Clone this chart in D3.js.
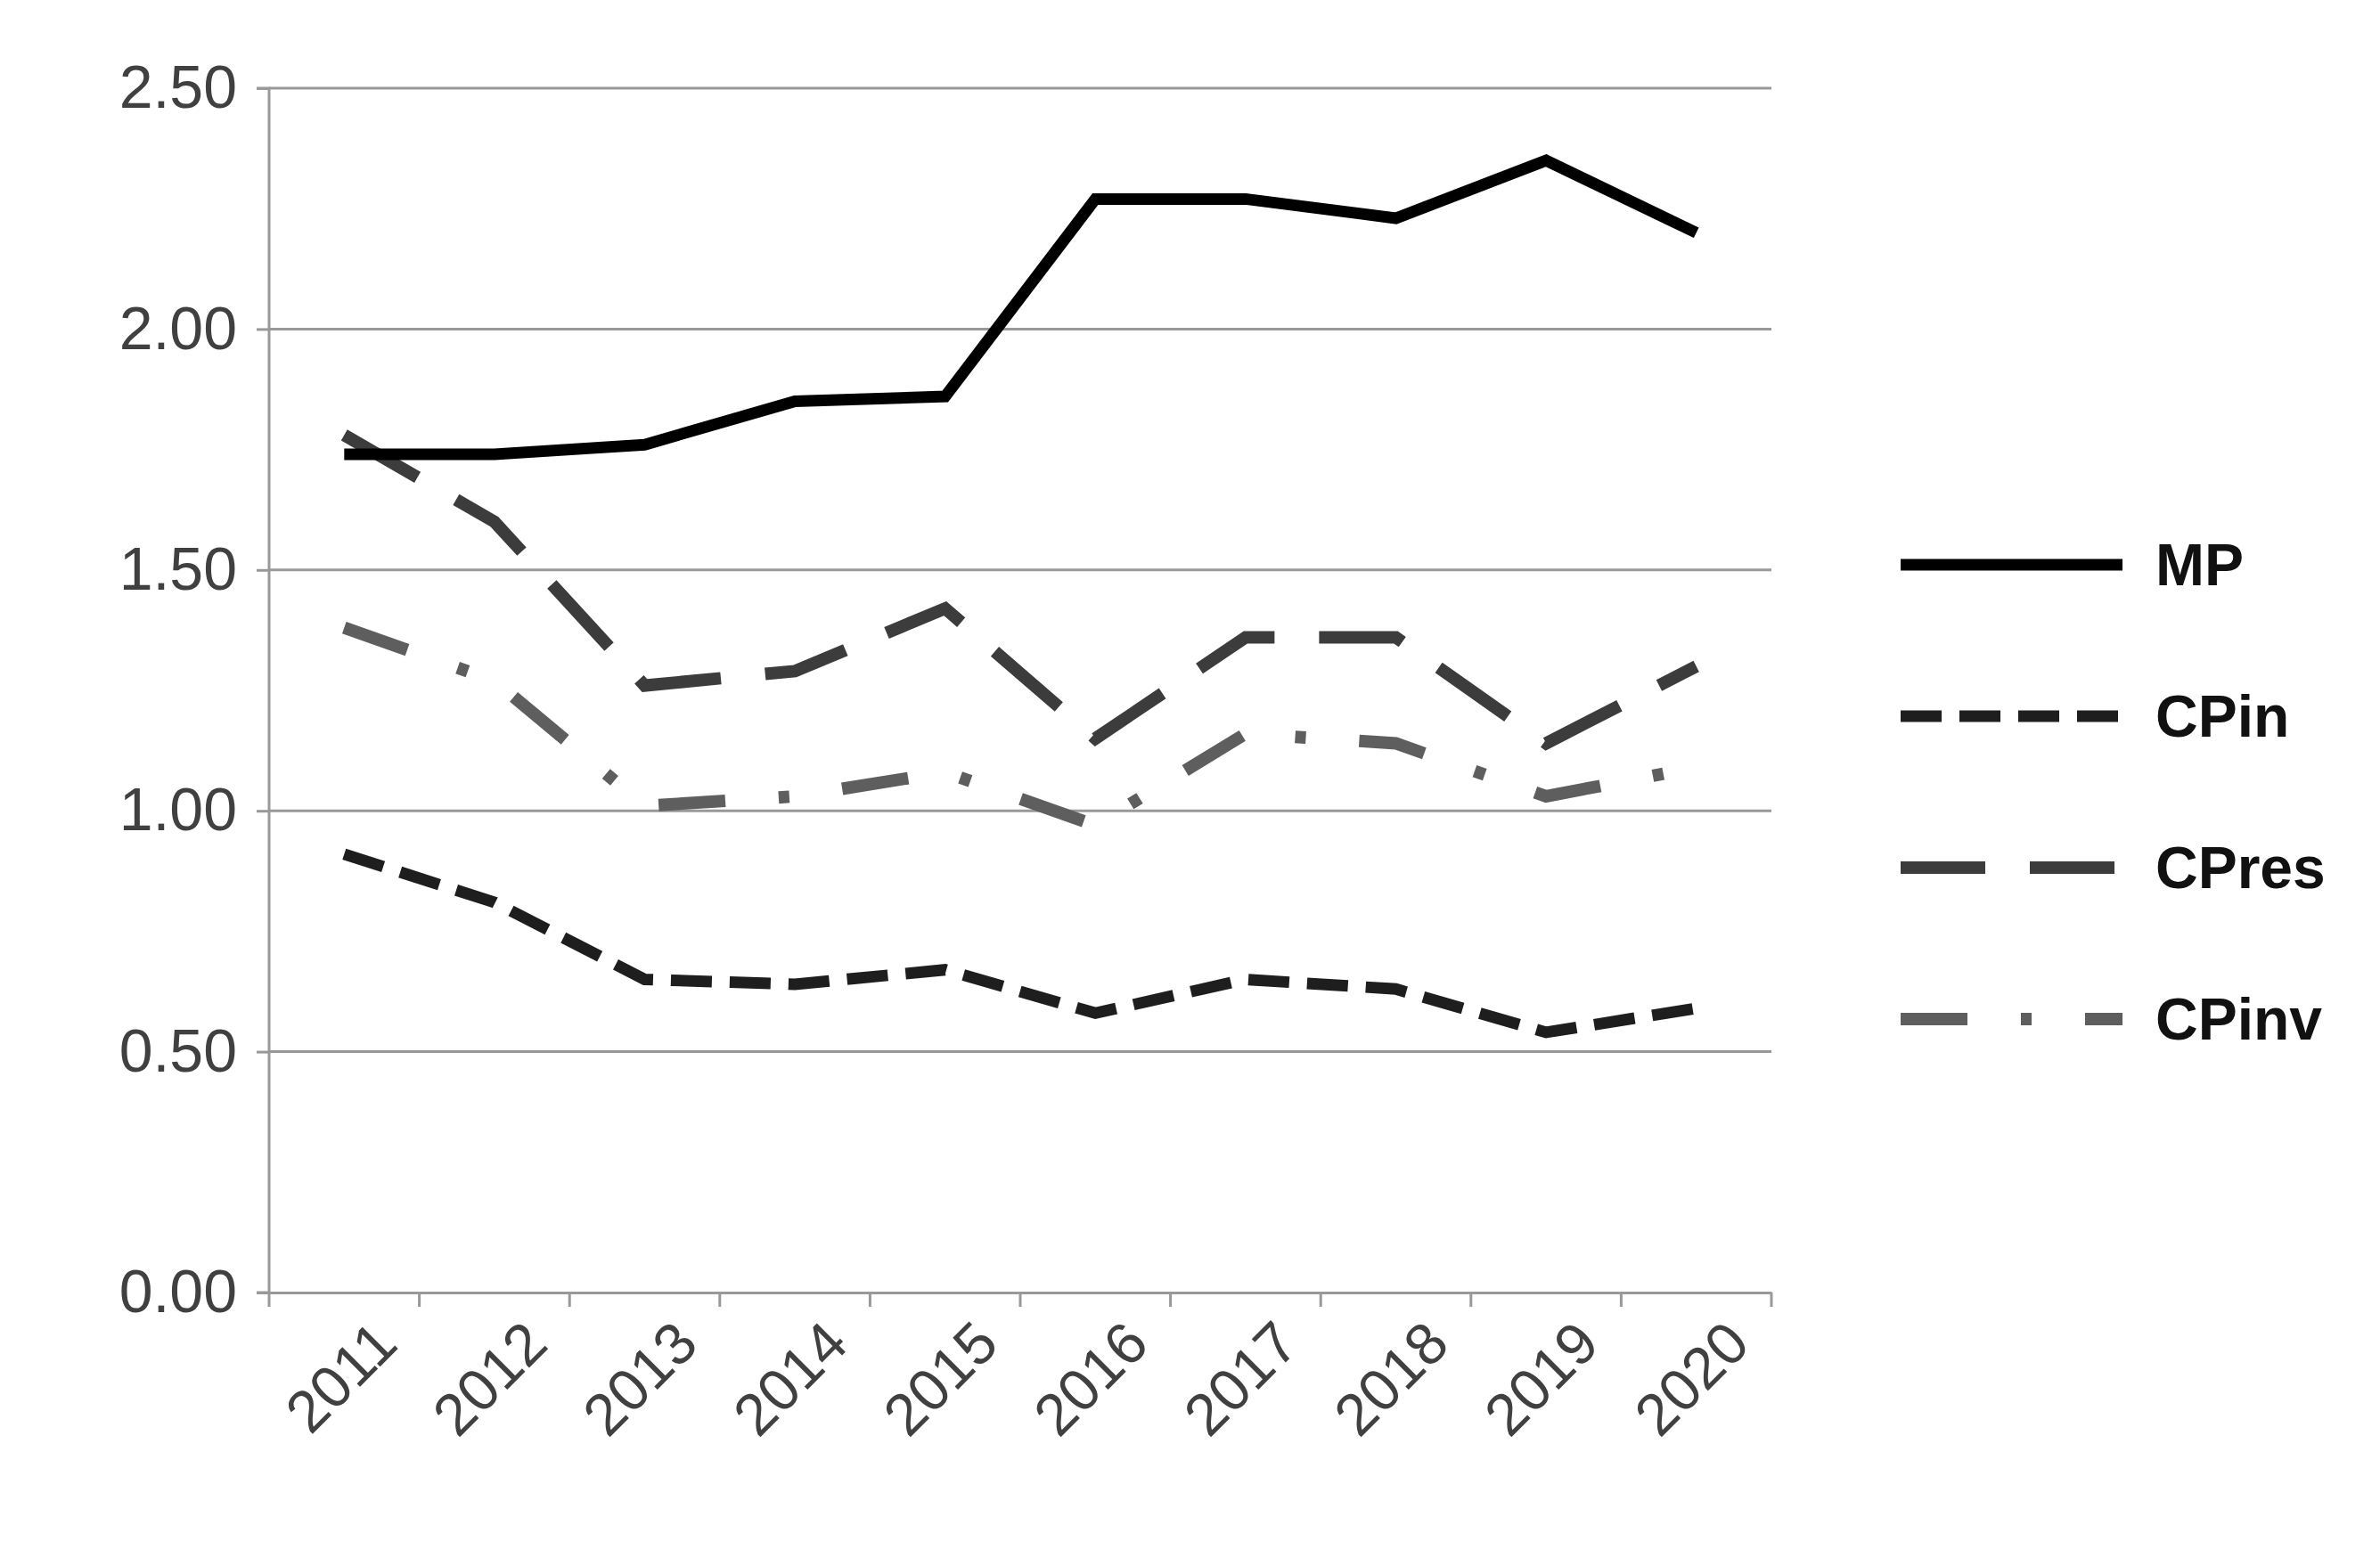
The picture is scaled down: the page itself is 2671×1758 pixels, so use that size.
<!DOCTYPE html><html><head><meta charset="utf-8">
<script src="https://cdn.jsdelivr.net/npm/d3@7"></script>
<style>body{margin:0;background:#fff}</style></head><body>
<svg id="c" width="2671" height="1758"></svg>
<script>
const years=["2011","2012","2013","2014","2015","2016","2017","2018","2019","2020"];
const MP=[1.74,1.74,1.76,1.85,1.86,2.27,2.27,2.23,2.35,2.20];
const CPin=[0.91,0.81,0.65,0.64,0.67,0.58,0.65,0.63,0.54,0.59];
const CPres=[1.78,1.60,1.26,1.29,1.42,1.15,1.36,1.36,1.14,1.30];
const CPinv=[1.38,1.27,1.01,1.03,1.08,0.97,1.16,1.14,1.03,1.09];
const yTicks=[0,0.5,1,1.5,2,2.5];
const series=[
 {name:"MP",v:MP,c:"#000",w:13,d:null},
 {name:"CPin",v:CPin,c:"#1e1e1e",w:13,d:"46 20"},
 {name:"CPres",v:CPres,c:"#3c3c3c",w:14,d:"95 50"},
 {name:"CPinv",v:CPinv,c:"#5e5e5e",w:14,d:"75 60 12 60"}];
const svg=d3.select("#c");
const L=302,R=1988,T=99,B=1451;
const x=d3.scaleBand().domain(years).range([L,R]);
const y=d3.scaleLinear().domain([0,2.5]).range([B,T]);
const font="'Liberation Sans',Arial,sans-serif";
svg.append("g").selectAll("line").data(yTicks.slice(1)).join("line")
 .attr("x1",L).attr("x2",R).attr("y1",d=>y(d)).attr("y2",d=>y(d)).attr("stroke","#999").attr("stroke-width",3);
const ya=svg.append("g").attr("transform",`translate(${L},0)`).call(d3.axisLeft(y).tickValues(yTicks).tickFormat(d3.format(".2f")).tickSize(14).tickPadding(22));
ya.select(".domain").attr("stroke","#999").attr("stroke-width",3).attr("d",`M-14,${T}H0V${B}H-14`);
ya.selectAll(".tick line").attr("stroke","#999").attr("stroke-width",3);
ya.selectAll("text").attr("font-family",font).attr("font-size",68).attr("fill","#404040");
const xa=svg.append("g").attr("transform",`translate(0,${B})`).call(d3.axisBottom(x).tickSize(0).tickPadding(0));
xa.select(".domain").attr("stroke","#999").attr("stroke-width",3);
svg.append("g").selectAll("line").data(d3.range(11)).join("line")
 .attr("x1",i=>L+i*x.step()).attr("x2",i=>L+i*x.step()).attr("y1",B).attr("y2",B+16).attr("stroke","#999").attr("stroke-width",3);
xa.selectAll("text").attr("font-family",font).attr("font-size",66).attr("fill","#404040")
 .attr("text-anchor","end").attr("transform",`translate(30,28) rotate(-45)`).attr("dy","0.7em");
const line=d3.line().x((d,i)=>x(years[i])+x.bandwidth()/2).y(d=>y(d));
series.slice().reverse().forEach(s=>{
 svg.append("path").attr("d",line(s.v)).attr("fill","none").attr("stroke",s.c).attr("stroke-width",s.w).attr("stroke-dasharray",s.d);
});
series.forEach((s,i)=>{
 const ly=634+i*170;
 svg.append("line").attr("x1",2133).attr("x2",2382).attr("y1",ly).attr("y2",ly).attr("stroke",s.c).attr("stroke-width",s.w).attr("stroke-dasharray",s.d);
 svg.append("text").attr("x",2419).attr("y",ly).attr("dy","0.35em").text(s.name).attr("font-family",font).attr("font-size",66).attr("font-weight","bold").attr("fill","#111");
});
</script></body></html>
